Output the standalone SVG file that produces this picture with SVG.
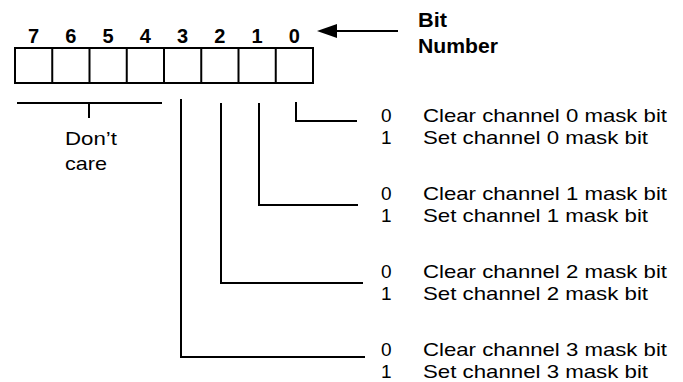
<svg xmlns="http://www.w3.org/2000/svg" width="683" height="382" viewBox="0 0 683 382">
<style>
.ln{stroke:#000;stroke-width:2;fill:none}
.bn{font-family:"Liberation Sans",Arial,sans-serif;font-weight:bold;font-size:20px;fill:#000}
.tx{font-family:"Liberation Sans",Arial,sans-serif;font-size:19px;fill:#000}
</style>
<rect width="683" height="382" fill="#fff"/>
<g id="register">
<rect class="ln" x="15" y="48" width="298" height="35"/>
<path class="ln" d="M52.25 48V83M89.5 48V83M126.75 48V83M164 48V83M201.25 48V83M238.5 48V83M275.75 48V83"/>
<g class="bn" text-anchor="middle">
<text x="33.6" y="43">7</text><text x="70.9" y="43">6</text><text x="108.1" y="43">5</text><text x="145.4" y="43">4</text><text x="182.6" y="43">3</text><text x="219.9" y="43">2</text><text x="257.1" y="43">1</text><text x="294.4" y="43">0</text>
</g>
</g>
<g id="bitnumber-label">
<text class="bn" x="418" y="27" textLength="29" lengthAdjust="spacingAndGlyphs">Bit</text>
<text class="bn" x="418" y="53" textLength="80" lengthAdjust="spacingAndGlyphs">Number</text>
</g>
<g id="dontcare">
<text class="tx" x="65" y="145" font-size="20" textLength="52" lengthAdjust="spacingAndGlyphs">Don’t</text>
<text class="tx" x="65" y="170" font-size="20" textLength="42" lengthAdjust="spacingAndGlyphs">care</text>
</g>
<g id="ch0">
<text class="tx" x="381" y="122">0</text><text class="tx" x="423" y="122" textLength="244" lengthAdjust="spacingAndGlyphs">Clear channel 0 mask bit</text>
<text class="tx" x="381" y="144">1</text><text class="tx" x="423" y="144" textLength="225" lengthAdjust="spacingAndGlyphs">Set channel 0 mask bit</text>
</g>
<g id="ch1">
<text class="tx" x="381" y="200">0</text><text class="tx" x="423" y="200" textLength="244" lengthAdjust="spacingAndGlyphs">Clear channel 1 mask bit</text>
<text class="tx" x="381" y="222">1</text><text class="tx" x="423" y="222" textLength="225" lengthAdjust="spacingAndGlyphs">Set channel 1 mask bit</text>
</g>
<g id="ch2">
<text class="tx" x="381" y="278">0</text><text class="tx" x="423" y="278" textLength="244" lengthAdjust="spacingAndGlyphs">Clear channel 2 mask bit</text>
<text class="tx" x="381" y="300">1</text><text class="tx" x="423" y="300" textLength="225" lengthAdjust="spacingAndGlyphs">Set channel 2 mask bit</text>
</g>
<g id="ch3">
<text class="tx" x="381" y="356">0</text><text class="tx" x="423" y="356" textLength="244" lengthAdjust="spacingAndGlyphs">Clear channel 3 mask bit</text>
<text class="tx" x="381" y="378">1</text><text class="tx" x="423" y="378" textLength="225" lengthAdjust="spacingAndGlyphs">Set channel 3 mask bit</text>
</g>
<g id="connectors">
<path class="ln" d="M398 31H334"/>
<polygon points="317,31 337,24 337,38" fill="#000"/>
<path class="ln" d="M17 103H162M89 103V118"/>
<path class="ln" d="M296 102V121H357"/>
<path class="ln" d="M259 103V205H358"/>
<path class="ln" d="M221 103V283H363"/>
<path class="ln" d="M181 99V357H365"/>
</g>
</svg>
